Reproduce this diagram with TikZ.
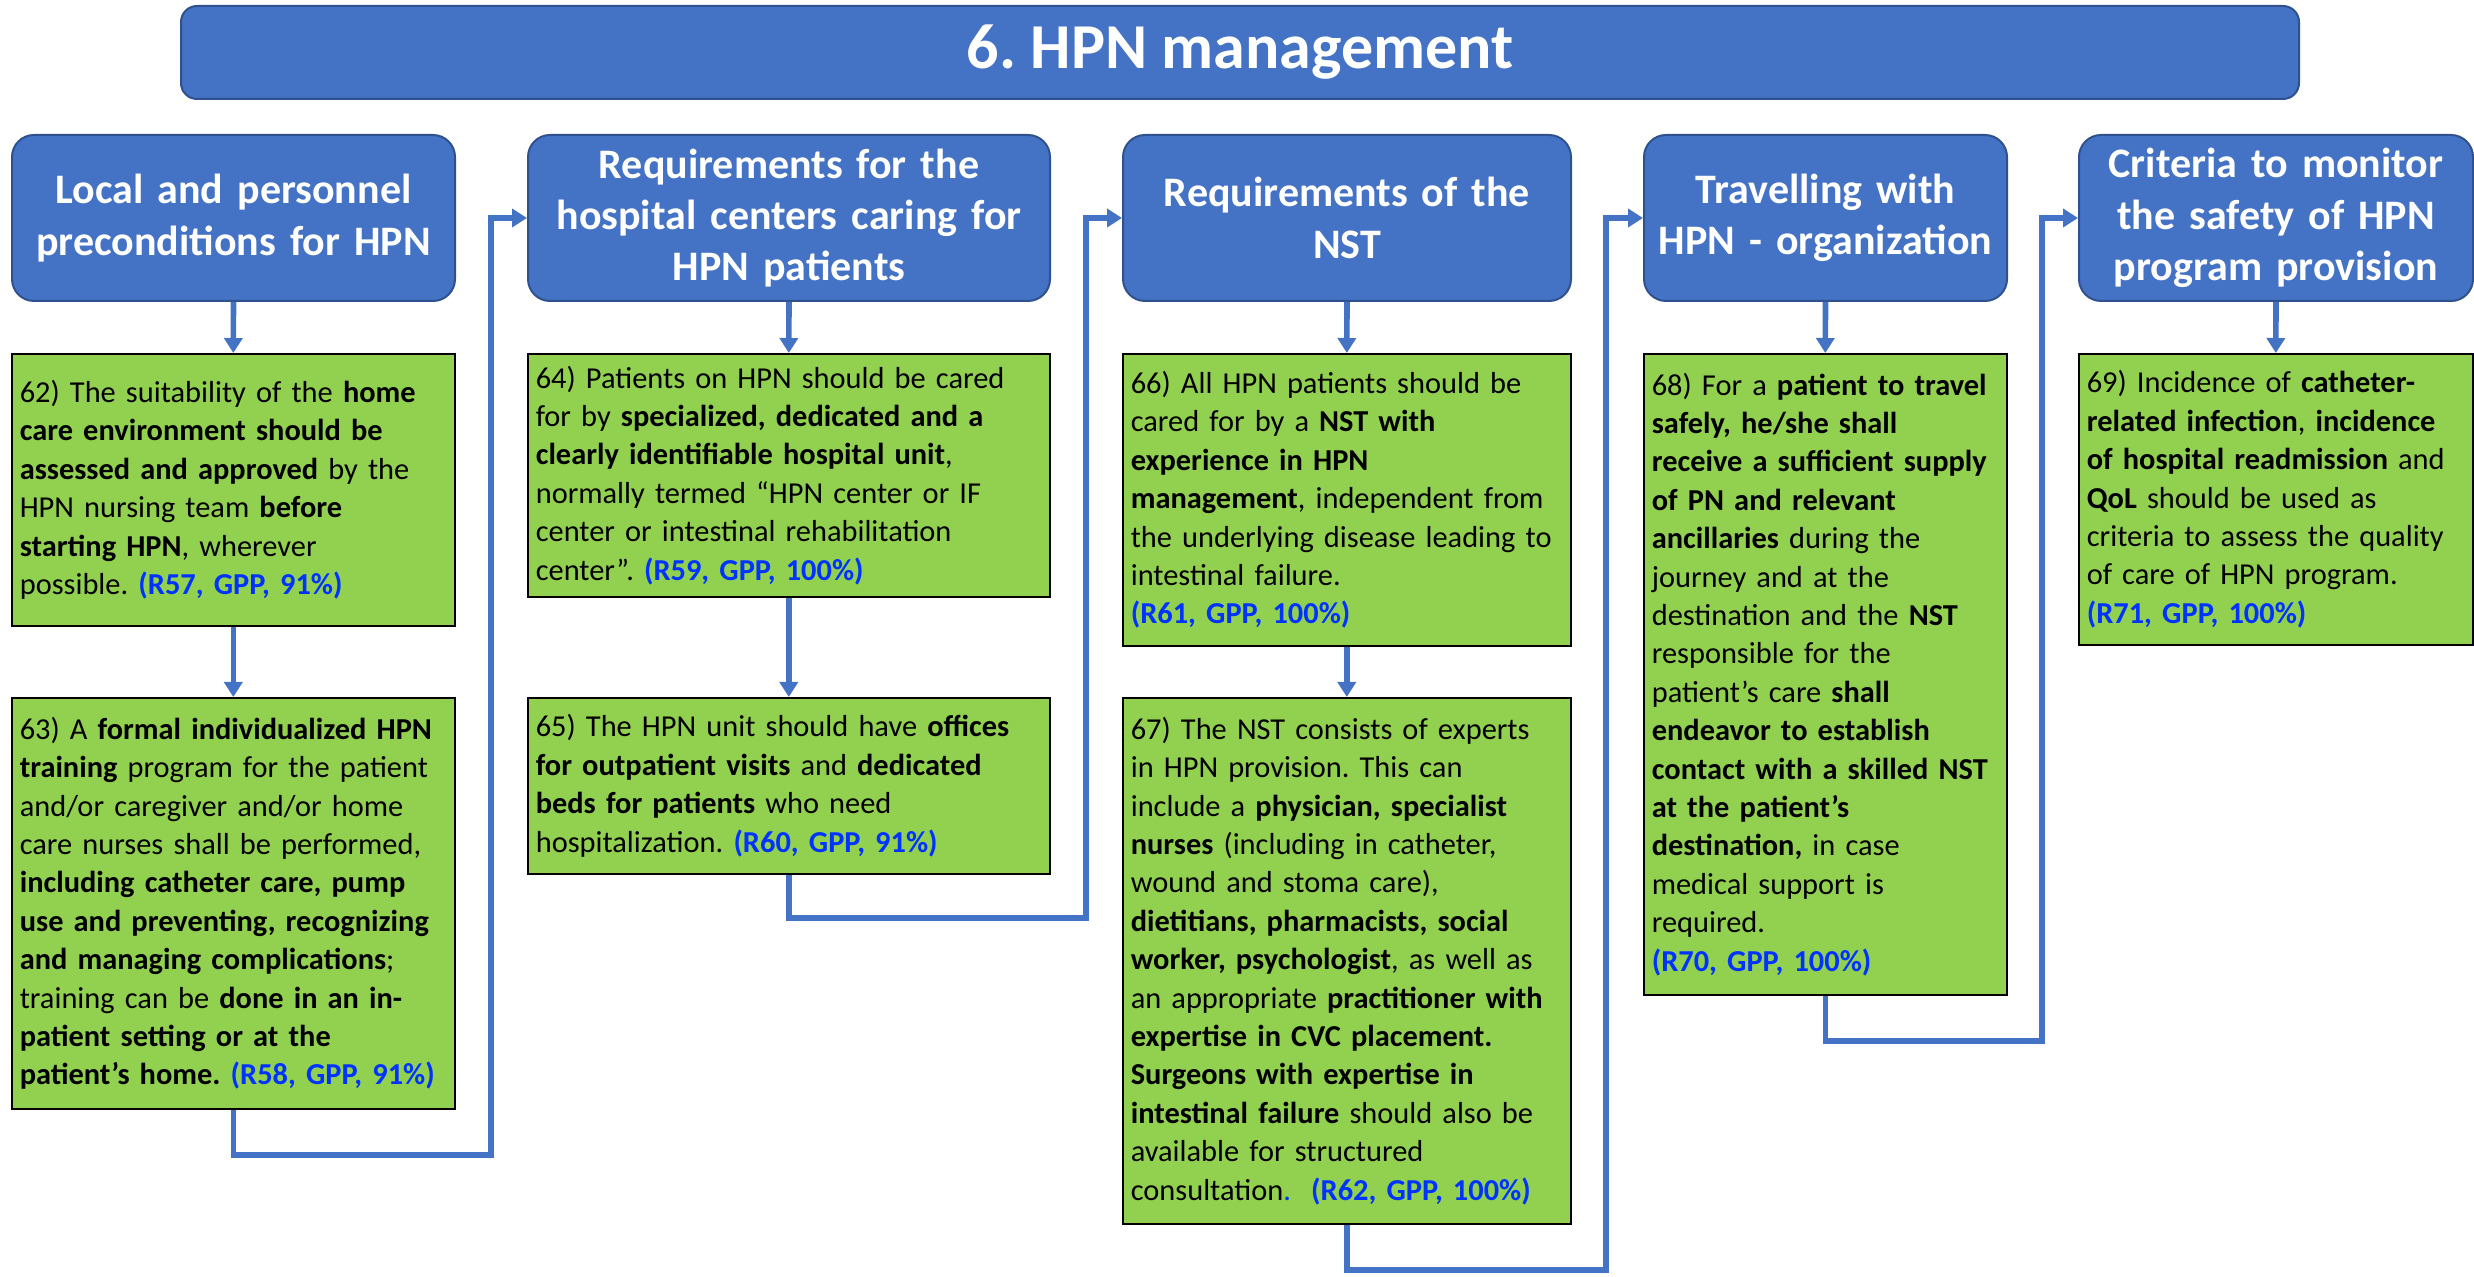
\documentclass[tikz,border=0pt]{standalone}
\usepackage{fontspec}
\setmainfont{Carlito}
\usetikzlibrary{arrows.meta}
\definecolor{hpnblue}{HTML}{4472C4}
\definecolor{hpnedge}{HTML}{2F528F}
\definecolor{recgreen}{HTML}{92D050}
\definecolor{refblue}{HTML}{0033FF}
\newcommand{\grade}[1]{\textcolor{refblue}{\textbf{#1}}}
\frenchspacing
\hyphenpenalty=10000

\begin{document}
\begin{tikzpicture}[x=0.5pt,y=-0.5pt,
  head/.style={draw=hpnedge, line width=1pt, fill=hpnblue, rounded corners=11pt, text=white,
    align=center, anchor=north west, minimum height=83pt, inner sep=2pt,
    font=\fontsize{21}{25.6}\selectfont\bfseries},
  rec/.style={draw=black, line width=0.8pt, fill=recgreen, anchor=north west, align=left,
    inner xsep=4pt, font=\fontsize{15.2}{19.2}\selectfont},
  link/.style={draw=hpnblue, line width=2.8pt, -{Triangle[width=9pt,length=7.5pt]}}]
\useasboundingbox (0,0) rectangle (2474,1277);

% title
\node[draw=hpnedge, line width=1pt, fill=hpnblue, rounded corners=8pt, minimum width=1059pt,
  minimum height=46.5pt, text=white, font=\fontsize{32}{38}\selectfont\bfseries] (title) at (1240,52.5) {6. HPN management};

% column heads
\node[head, text width=217.5pt] (h1) at (11,134) {Local and personnel\\preconditions for HPN};
\node[head, text width=257pt] (h2) at (527,134) {Requirements for the\\hospital centers caring for\\HPN patients};
\node[head, text width=220pt] (h3) at (1122,134) {Requirements of the\\NST};
\node[head, text width=177.5pt] (h4) at (1643,134) {Travelling with\\HPN - organization};
\node[head, text width=193pt] (h5) at (2078,134) {Criteria to monitor\\the safety of HPN\\program provision};

% statements
\node[rec, text width=213.5pt, minimum height=136pt] (g62) at (11,353) {62) The suitability of the \textbf{home}\\
\textbf{care environment should be}\\
\textbf{assessed and approved} by the\\
HPN nursing team \textbf{before}\\
\textbf{starting HPN}, wherever\\
possible. \grade{(R57, GPP, 91\%)}};
\node[rec, text width=213.5pt, minimum height=205.5pt] (g63) at (11,697) {63) A \textbf{formal individualized HPN}\\
\textbf{training} program for the patient\\
and/or caregiver and/or home\\
care nurses shall be performed,\\
\textbf{including catheter care, pump}\\
\textbf{use and preventing, recognizing}\\
\textbf{and managing complications};\\
training can be \textbf{done in an in-}\\
\textbf{patient setting or at the}\\
\textbf{patient’s home.} \grade{(R58, GPP, 91\%)}};
\node[rec, text width=253pt, minimum height=121.5pt] (g64) at (527,353) {64) Patients on HPN should be cared\\
for by \textbf{specialized, dedicated and a}\\
\textbf{clearly identifiable hospital unit},\\
normally termed “HPN center or IF\\
center or intestinal rehabilitation\\
center”. \grade{(R59, GPP, 100\%)}};
\node[rec, text width=253pt, minimum height=88pt] (g65) at (527,697) {65) The HPN unit should have \textbf{offices}\\
\textbf{for outpatient visits} and \textbf{dedicated}\\
\textbf{beds for patients} who need\\
hospitalization. \grade{(R60, GPP, 91\%)}};
\node[rec, text width=216pt, minimum height=146pt] (g66) at (1122,353) {66) All HPN patients should be\\
cared for by a \textbf{NST with}\\
\textbf{experience in HPN}\\
\textbf{management}, independent from\\
the underlying disease leading to\\
intestinal failure.\\
\grade{(R61, GPP, 100\%)}};
\node[rec, text width=216pt, minimum height=263pt] (g67) at (1122,697) {67) The NST consists of experts\\
in HPN provision. This can\\
include a \textbf{physician, specialist}\\
\textbf{nurses} (including in catheter,\\
wound and stoma care),\\
\textbf{dietitians, pharmacists, social}\\
\textbf{worker, psychologist}, as well as\\
an appropriate \textbf{practitioner with}\\
\textbf{expertise in CVC placement.}\\
\textbf{Surgeons with expertise in}\\
\textbf{intestinal failure} should also be\\
available for structured\\
consultation\textcolor{refblue}{.}~~\grade{(R62, GPP, 100\%)}};
\node[rec, text width=173.5pt, minimum height=320.5pt] (g68) at (1643,353) {68) For a \textbf{patient to travel}\\
\textbf{safely, he/she shall}\\
\textbf{receive a sufficient supply}\\
\textbf{of PN and relevant}\\
\textbf{ancillaries} during the\\
journey and at the\\
destination and the \textbf{NST}\\
responsible for the\\
patient’s care \textbf{shall}\\
\textbf{endeavor to establish}\\
\textbf{contact with a skilled NST}\\
\textbf{at the patient’s}\\
\textbf{destination,} in case\\
medical support is\\
required.\\
\grade{(R70, GPP, 100\%)}};
\node[rec, text width=189pt, minimum height=145.5pt] (g69) at (2078,353) {69) Incidence of \textbf{catheter-}\\
\textbf{related infection}, \textbf{incidence}\\
\textbf{of hospital readmission} and\\
\textbf{QoL} should be used as\\
criteria to assess the quality\\
of care of HPN program.\\
\grade{(R71, GPP, 100\%)}};

% down arrows
\draw[link] (h1.south) -- (g62.north);
\draw[link] (g62.south) -- (g63.north);
\draw[link] (h2.south) -- (g64.north);
\draw[link] (g64.south) -- (g65.north);
\draw[link] (h3.south) -- (g66.north);
\draw[link] (g66.south) -- (g67.north);
\draw[link] (h4.south) -- (g68.north);
\draw[link] (h5.south) -- (g69.north);

% links to next column
\coordinate (c1) at (491,1155);
\coordinate (c2) at (1086,918);
\coordinate (c3) at (1606,1270);
\coordinate (c4) at (2042,1041);
\draw[link] (g63.south) |- (c1) |- (h2.west);
\draw[link] (g65.south) |- (c2) |- (h3.west);
\draw[link] (g67.south) |- (c3) |- (h4.west);
\draw[link] (g68.south) |- (c4) |- (h5.west);
\end{tikzpicture}
\end{document}
